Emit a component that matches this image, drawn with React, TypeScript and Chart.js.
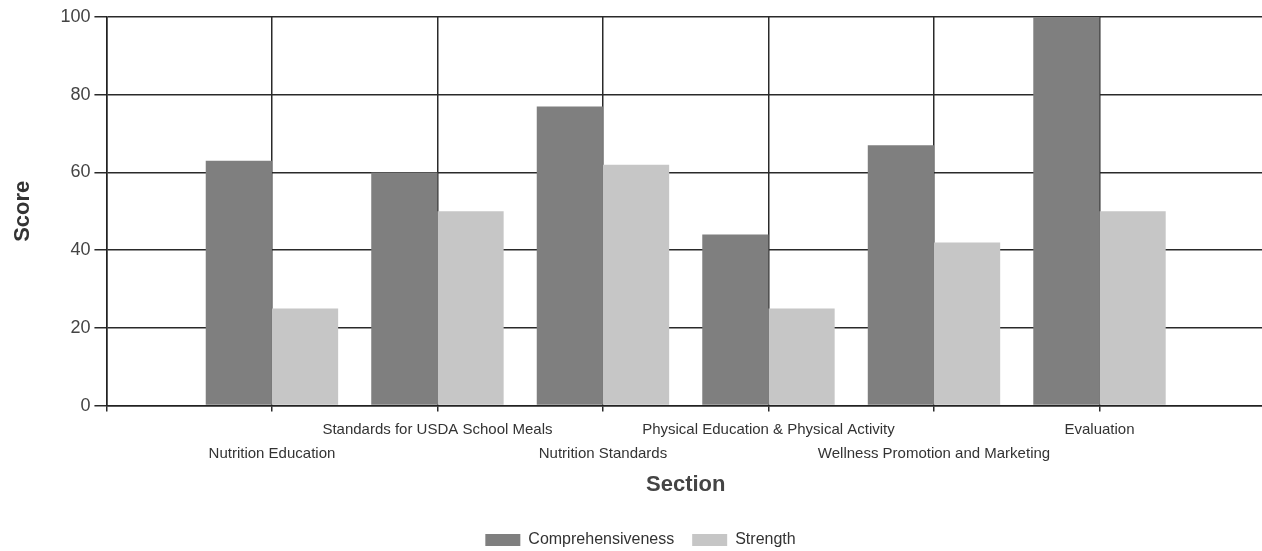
import React, { useEffect, useRef } from "react";
import { Chart, registerables } from "chart.js";

Chart.register(...registerables);

const categories = [
  "Nutrition Education",
  "Standards for USDA School Meals",
  "Nutrition Standards",
  "Physical Education & Physical Activity",
  "Wellness Promotion and Marketing",
  "Evaluation",
];
const comprehensiveness = [63, 60, 77, 44, 67, 100];
const strength = [25, 50, 62, 25, 42, 50];
const yTicks = [0, 20, 40, 60, 80, 100];

export default function App() {
  const ref = useRef<HTMLCanvasElement | null>(null);

  useEffect(() => {
    if (!ref.current) return;
    const labels = ["", ...categories, ""];
    const pad = (arr: number[]) => [null, ...arr, null];
    const font = "'Liberation Sans', Arial, sans-serif";
    const chart = new Chart(ref.current, {
      type: "bar",
      data: {
        labels,
        datasets: [
          {
            label: "Comprehensiveness",
            data: pad(comprehensiveness),
            backgroundColor: "#7f7f7f",
            borderWidth: 0,
          },
          {
            label: "Strength",
            data: pad(strength),
            backgroundColor: "#c6c6c6",
            borderWidth: 0,
          },
        ],
      },
      options: {
        animation: false,
        responsive: true,
        maintainAspectRatio: false,
        layout: { padding: { left: 10, right: 0, top: 17, bottom: 0 } },
        plugins: {
          tooltip: { enabled: false },
          legend: {
            position: "bottom",
            labels: {
              boxWidth: 35,
              boxHeight: 12,
              color: "#333",
              padding: 18,
              font: { family: font, size: 16 },
            },
          },
        },
        datasets: {
          bar: { categoryPercentage: 0.8, barPercentage: 1.0 },
        },
        scales: {
          x: {
            type: "category",
            offset: false,
            grid: {
              offset: false,
              color: "#2a2a2a",
              lineWidth: 1.5,
              tickLength: 6,
              drawOnChartArea: true,
            },
            border: { color: "#222", width: 1.5 },
            ticks: {
              autoSkip: false,
              maxRotation: 0,
              minRotation: 0,
              padding: 6,
              color: "#333",
              font: { family: font, size: 15, lineHeight: 1.6 },
              callback: (_v: any, i: number) => {
                const l = labels[i];
                if (!l) return "";
                return i % 2 === 1 ? ["", l] : [l, ""];
              },
            },
            title: {
              display: true,
              text: "Section",
              color: "#444",
              font: { family: font, size: 22, weight: "bold" },
              padding: { top: 0, bottom: 16 },
            },
          },
          y: {
            min: 0,
            max: 100,
            afterBuildTicks: (axis: any) => {
              axis.ticks = yTicks.map((v) => ({ value: v }));
            },
            grid: { color: "#2a2a2a", lineWidth: 1.5, tickLength: 12 },
            border: { color: "#222", width: 1.5 },
            ticks: {
              padding: 4,
              color: "#444",
              font: { family: font, size: 18 },
            },
            title: {
              display: true,
              text: "Score",
              color: "#333",
              font: { family: font, size: 22, weight: "bold" },
              padding: { top: 0, bottom: 20 },
            },
          },
        },
      },
    } as any);
    return () => chart.destroy();
  }, []);

  return (
    <div
      style={{
        position: "fixed",
        left: 0,
        top: 0,
        width: 1271,
        height: 558,
        background: "#fff",
      }}
    >
      <canvas ref={ref} />
    </div>
  );
}
